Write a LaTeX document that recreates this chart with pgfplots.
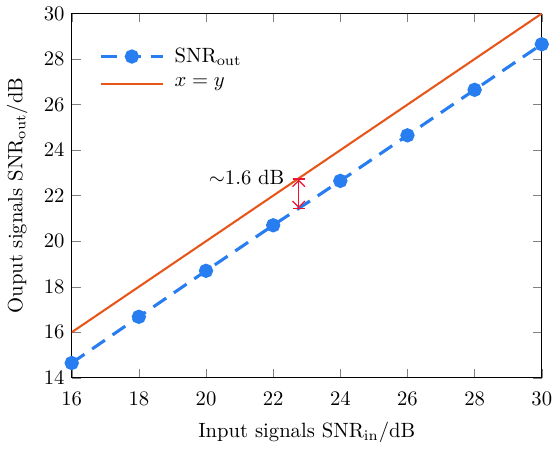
\documentclass[border=0pt]{standalone}
\usepackage{pgfplots}
\pgfplotsset{compat=1.18}
\usetikzlibrary{arrows.meta}
\definecolor{cBlue}{RGB}{40,125,240}
\definecolor{cOrange}{RGB}{232,85,25}
\definecolor{cRed}{RGB}{235,20,50}
\begin{document}
\begin{tikzpicture}
\begin{axis}[
  width=8cm, height=6.2cm,
  scale only axis,
  xmin=16, xmax=30, ymin=14, ymax=30,
  xtick={16,18,...,30}, ytick={14,16,...,30},
  tick align=inside,
  axis line style={line width=0.6pt},
  xticklabel style={yshift=-3.5pt},
  xlabel style={yshift=-1pt},
  ylabel style={yshift=1pt},
  xlabel={Input signals SNR$_{\mathrm{in}}$/dB},
  ylabel={Ouput signals SNR$_{\mathrm{out}}$/dB},
  legend style={at={(0.045,0.93)}, anchor=north west, draw=none, fill=none,
                legend cell align=left, row sep=2pt,
                nodes={inner xsep=5pt}},
  legend image code/.code={
    \draw[#1] (0cm,0cm) -- (1.05cm,0cm);
    \draw[#1, only marks] plot coordinates {(0.525cm,0cm)};
  },
]
\addplot[cBlue, line width=1.5pt, dash pattern=on 7.5pt off 4.5pt,
         mark=*, mark size=2.7pt, mark options={solid}] coordinates {
  (16,14.65) (18,16.68) (20,18.7) (22,20.7) (24,22.65) (26,24.65) (28,26.65) (30,28.65)};
\addlegendentry{SNR$_{\mathrm{out}}$}
\addplot[cOrange, line width=1pt] coordinates {(16,16) (30,30)};
\addlegendentry{$x=y$}
\draw[cRed, line width=0.6pt, {Bar[width=6pt]Straight Barb[length=3pt,width=6pt]}-{Straight Barb[length=3pt,width=6pt]Bar[width=6pt]}]
  (axis cs:22.76,22.76) -- (axis cs:22.76,21.4);
\node[anchor=east] at (axis cs:22.55,22.8) {$\sim$1.6 dB};
\end{axis}
\end{tikzpicture}
\end{document}
